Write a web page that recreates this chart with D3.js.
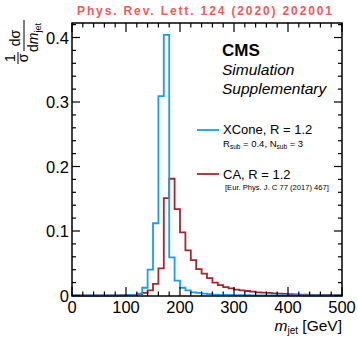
<!doctype html>
<html>
<head>
<meta charset="utf-8"/>
<title>XCone vs CA jet mass</title>
<script src="https://d3js.org/d3.v7.min.js"></script>
<style>
body { margin: 0; background: white; }
text { font-family: 'Liberation Sans', Arial, sans-serif; }
</style>
</head>
<body>
<svg id="svg1"></svg>
<script>
// bin edges: 0..500 GeV in 10 GeV steps
const binLo = d3.range(0, 500, 10)
// normalised distributions, one value per bin
const xcone = [
    0, 0, 0, 0, 0, 0, 0, 0, 0.0002, 0.0003,
    0.0005, 0.001, 0.003, 0.012, 0.040, 0.112, 0.309, 0.404, 0.059, 0.023,
    0.012, 0.008, 0.005, 0.004, 0.003, 0.002, 0.0015, 0.001, 0.001, 0.0008,
    0.0006, 0.0005, 0.0004, 0.0003, 0.0003, 0.0002, 0.0002, 0.0002, 0.0001, 0.0001,
    0.0001, 0.0001, 0.0001, 0, 0, 0, 0, 0, 0, 0
]
const ca = [
    0, 0, 0, 0, 0, 0.0001, 0.0001, 0.0002, 0.0003, 0.0004,
    0.0005, 0.001, 0.002, 0.004, 0.008, 0.018, 0.042, 0.151, 0.181, 0.134,
    0.098, 0.070, 0.055, 0.041, 0.034, 0.027, 0.020, 0.016, 0.013, 0.011,
    0.009, 0.008, 0.007, 0.006, 0.005, 0.0045, 0.004, 0.0033, 0.003, 0.0025,
    0.002, 0.0017, 0.0015, 0.0013, 0.0011, 0.001, 0.0009, 0.0008, 0.0007, 0.0006
]
const xTicks = [0, 100, 200, 300, 400, 500]
const yTicks = [0, 0.1, 0.2, 0.3, 0.4]

const width = 358
const height = 337

const svg = d3.select('#svg1')
    .attr('width', width)
    .attr('height', height)

const x = d3.scaleLinear([0, 500], [72, 342])
const y = d3.scaleLinear([0, 0.4225], [295.5, 23])

// journal reference on top
svg.append('text')
    .attr('x', 77).attr('y', 15)
    .attr('textLength', 255).attr('lengthAdjust', 'spacing')
    .style('font-weight', 'bold').style('font-size', '12px')
    .style('fill', '#f25a5a')
    .text('Phys. Rev. Lett. 124 (2020) 202001')

// histograms as step outlines
function steps(vals) {
    let pts = [[0, 0]]
    vals.forEach((v, i) => { pts.push([binLo[i], v]); pts.push([binLo[i] + 10, v]) })
    pts.push([500, 0])
    return pts
}
const line = d3.line().x(d => x(d[0])).y(d => y(d[1]))

svg.append('path').attr('d', line(steps(ca)))
    .style('fill', 'none').style('stroke', '#a3282e').style('stroke-width', 1.8)
svg.append('path').attr('d', line(steps(xcone)))
    .style('fill', 'none').style('stroke', '#1a9cf5').style('stroke-width', 1.8)

// frame + ticks (inward, all four sides)
const ax = svg.append('g').style('stroke', 'black').style('stroke-width', 1.2)
ax.append('rect').attr('x', 72).attr('y', 23).attr('width', 270).attr('height', 273)
    .style('fill', 'none').style('stroke-width', 1.5)

d3.range(0, 501, 20).forEach(v => {
    let len = v % 100 === 0 ? 9 : 4.5
    ax.append('line').attr('x1', x(v)).attr('x2', x(v)).attr('y1', 296).attr('y2', 296 - len)
    ax.append('line').attr('x1', x(v)).attr('x2', x(v)).attr('y1', 23).attr('y2', 23 + len)
})
d3.range(0, 0.421, 0.02).forEach((v, i) => {
    let len = i % 5 === 0 ? 8 : 4
    ax.append('line').attr('y1', y(v)).attr('y2', y(v)).attr('x1', 72).attr('x2', 72 + len)
    ax.append('line').attr('y1', y(v)).attr('y2', y(v)).attr('x1', 342).attr('x2', 342 - len)
})

// tick labels
svg.selectAll('.xl').data(xTicks).enter().append('text')
    .attr('x', d => x(d)).attr('y', 313)
    .attr('text-anchor', 'middle').style('font-size', '16.5px')
    .text(d => d)
svg.selectAll('.yl').data(yTicks).enter().append('text')
    .attr('x', 69).attr('y', d => y(d) + 6)
    .attr('text-anchor', 'end').style('font-size', '16.5px')
    .text(d => d === 0 ? '0' : d.toFixed(1))

// x title
const xt = svg.append('text').attr('x', 342).attr('y', 331)
    .attr('text-anchor', 'end').style('font-size', '15.5px')
xt.append('tspan').style('font-style', 'italic').text('m')
xt.append('tspan').attr('dy', 3).style('font-size', '10px').text('jet')
xt.append('tspan').attr('dy', -3).text(' [GeV]')

// y title: 1/sigma dsigma/dm_jet, rotated
const yt = svg.append('g').attr('transform', 'translate(25,73) rotate(-90)')
yt.append('text').attr('x', 15).attr('y', -10).attr('text-anchor', 'middle')
    .style('font-size', '14px').text('1')
yt.append('text').attr('x', 15).attr('y', 3).attr('text-anchor', 'middle')
    .style('font-size', '14px').text('σ')
yt.append('line').attr('x1', 9).attr('x2', 21).attr('y1', -7).attr('y2', -7)
    .style('stroke', 'black').style('stroke-width', 1)
yt.append('text').attr('x', 35).attr('y', -5).attr('text-anchor', 'middle')
    .style('font-size', '14px').text('dσ')
yt.append('line').attr('x1', 22).attr('x2', 53).attr('y1', -1).attr('y2', -1)
    .style('stroke', 'black').style('stroke-width', 1)
const dm = yt.append('text').attr('x', 21).attr('y', 13).style('font-size', '14px')
dm.append('tspan').text('d')
dm.append('tspan').style('font-style', 'italic').text('m')
dm.append('tspan').attr('dy', 3).style('font-size', '9px').text('jet')

// CMS label
svg.append('text').attr('x', 222).attr('y', 56)
    .style('font-weight', 'bold').style('font-size', '17px').text('CMS')
svg.append('text').attr('x', 222).attr('y', 75)
    .style('font-style', 'italic').style('font-size', '15.5px').text('Simulation')
svg.append('text').attr('x', 222).attr('y', 94)
    .style('font-style', 'italic').style('font-size', '15.5px').text('Supplementary')

// legend
svg.append('line').attr('x1', 197).attr('x2', 219).attr('y1', 130).attr('y2', 130)
    .style('stroke', '#1a9cf5').style('stroke-width', 1.8)
svg.append('text').attr('x', 223).attr('y', 134).style('font-size', '13px')
    .text('XCone, R = 1.2')
const rs = svg.append('text').attr('x', 223).attr('y', 147).style('font-size', '9.5px')
rs.append('tspan').text('R')
rs.append('tspan').attr('dy', 2).style('font-size', '6.5px').text('sub')
rs.append('tspan').attr('dy', -2).text(' = 0.4, N')
rs.append('tspan').attr('dy', 2).style('font-size', '6.5px').text('sub')
rs.append('tspan').attr('dy', -2).text(' = 3')

svg.append('line').attr('x1', 197).attr('x2', 219).attr('y1', 174).attr('y2', 174)
    .style('stroke', '#a3282e').style('stroke-width', 1.8)
svg.append('text').attr('x', 223).attr('y', 179).style('font-size', '13px')
    .text('CA, R = 1.2')
svg.append('text').attr('x', 225).attr('y', 190).style('font-size', '7.6px')
    .text('[Eur. Phys. J. C 77 (2017) 467]')
</script>
</body>
</html>
